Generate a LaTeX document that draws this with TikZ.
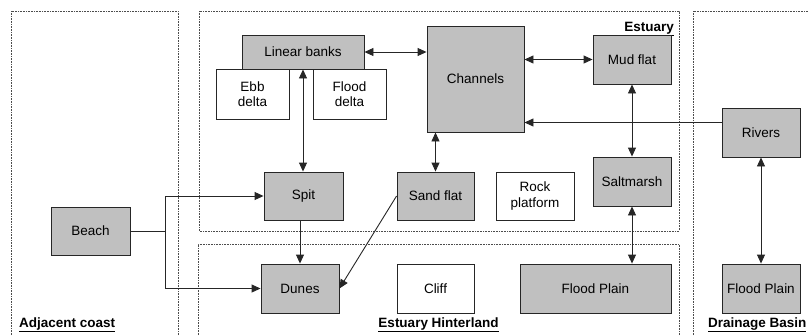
\documentclass[tikz,border=0pt]{standalone}
\usepackage{fontspec}
\setmainfont{Liberation Sans}
\usetikzlibrary{arrows.meta}
\definecolor{boxgray}{HTML}{C0C0C0}
\begin{document}
\begin{tikzpicture}[x=1pt,y=-1pt,
  font=\fontsize{13.5}{15.5}\selectfont,
  >={Triangle[length=9pt,width=8pt]},
  gbox/.style={draw=black!85, line width=0.9pt, fill=boxgray, align=center, inner sep=0pt},
  wbox/.style={draw=black!85, line width=0.9pt, fill=white, align=center, inner sep=0pt},
  conn/.style={draw=black!85, line width=0.9pt},
  region/.style={draw=black!70, line width=0.6pt, dash pattern=on 0.8pt off 0.8pt},
  rlabel/.style={font=\fontsize{13.5}{15.5}\selectfont\bfseries, inner sep=0pt}]
\useasboundingbox (0,0) rectangle (808,335);
% regions
\draw[region] (11,340) |- (178,11) -- (178,340);
\draw[region] (199,11) rectangle (679,231);
\draw[region] (198,340) |- (679,244) -- (679,340);
\draw[region] (693,340) |- (815,11);
% region labels
\node[rlabel, anchor=base east] (lest) at (674,31) {\underline{Estuary}};
\node[rlabel, anchor=base west] (ladj) at (19,327) {\underline{Adjacent coast}};
\node[rlabel, anchor=base] (lhin) at (438.5,327) {\underline{Estuary Hinterland}};
\node[rlabel, anchor=base west] (ldra) at (708,327) {\underline{Drainage Basin}};
% nodes
\node[wbox, minimum width=73, minimum height=50] (ebb) at (252.5,94) {Ebb\\delta};
\node[wbox, minimum width=73, minimum height=50] (fld) at (349.5,94) {Flood\\delta};
\node[gbox, minimum width=122, minimum height=34] (lin) at (303,52) {Linear banks};
\node[gbox, minimum width=97, minimum height=106] (chan) at (475.5,79) {Channels};
\node[gbox, minimum width=78, minimum height=49] (mud) at (632,59.5) {Mud flat};
\node[gbox, minimum width=78, minimum height=49] (riv) at (761,132.5) {Rivers};
\node[gbox, minimum width=79, minimum height=48] (beach) at (90.5,231) {Beach};
\node[gbox, minimum width=79, minimum height=48] (spit) at (303.5,196) {Spit};
\node[gbox, minimum width=77, minimum height=48] (sand) at (435.5,196) {Sand flat};
\node[wbox, minimum width=78, minimum height=48] (rock) at (535,196) {Rock\\platform};
\node[gbox, minimum width=78, minimum height=49] (salt) at (632,181.5) {Saltmarsh};
\node[gbox, minimum width=78, minimum height=49] (dunes) at (300,288.5) {Dunes};
\node[wbox, minimum width=77, minimum height=49] (cliff) at (435.5,288.5) {Cliff};
\node[gbox, minimum width=151, minimum height=49] (fp1) at (595.5,288.5) {Flood Plain};
\node[gbox, minimum width=78, minimum height=49] (fp2) at (761,288.5) {Flood Plain};
% connectors
\draw[conn, <->] (lin.east) -- (lin.east -| chan.west);
\draw[conn, <->] (mud.west -| chan.east) -- (mud.west);
\draw[conn, ->] ([yshift=10pt]riv.west) -- ([yshift=10pt]riv.west -| chan.east);
\draw[conn, <->] (mud.south) -- (salt.north);
\draw[conn, <->] (lin.south) -- (lin.south |- spit.north);
\draw[conn, <->] (sand.north |- chan.south) -- (sand.north);
\coordinate (j) at ([xshift=35pt]beach.east);
\draw[conn] (beach.east) -- (j);
\draw[conn, ->] (j) |- (spit.west);
\draw[conn, ->] (j) |- (dunes.west);
\draw[conn, ->] (dunes.north |- spit.south) -- (dunes.north);
\draw[conn, ->] (sand.west) -- (dunes.east);
\draw[conn, <->] (salt.south) -- (salt.south |- fp1.north);
\draw[conn, <->] (riv.south) -- (fp2.north);
\end{tikzpicture}
\end{document}
